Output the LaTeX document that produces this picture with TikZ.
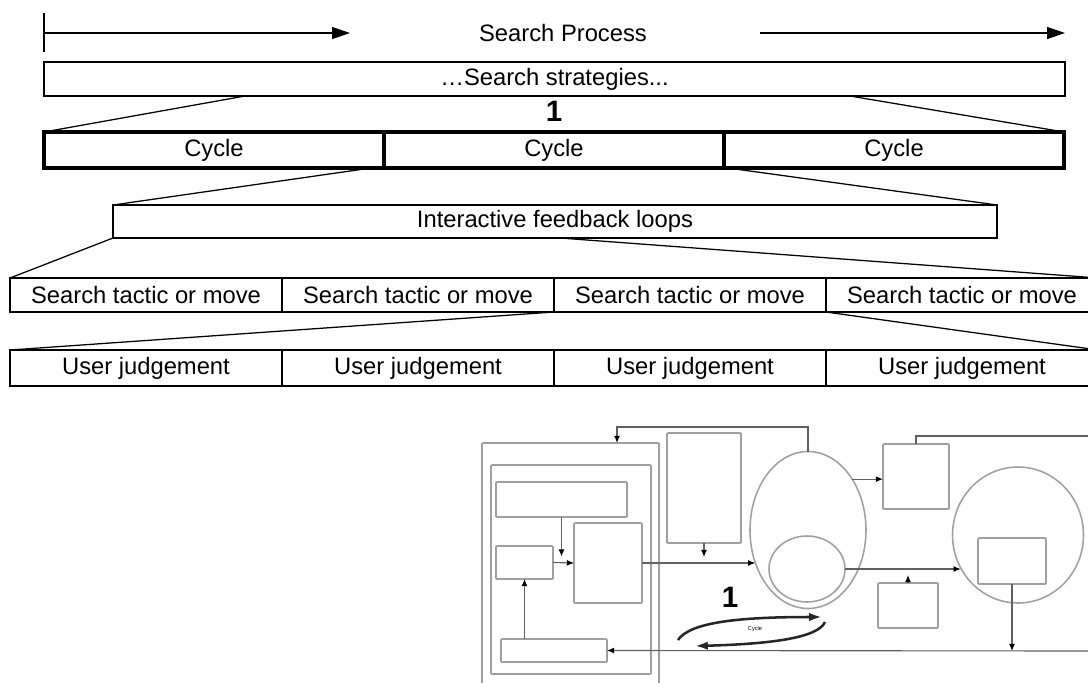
\documentclass[tikz,border=0pt]{standalone}
\usepackage{fontspec}
\setmainfont{Liberation Sans}
\usepackage{xcolor}
\usepackage{tikz}
\usetikzlibrary{positioning,arrows.meta,calc,shapes.geometric}
\definecolor{boxgray}{HTML}{A0A0A0}
\definecolor{lingray}{HTML}{606060}

\begin{document}
\begin{tikzpicture}[x=0.25mm,y=-0.25mm,font=\fontsize{16.9}{20}\selectfont,>={Triangle[length=4.5mm,width=3mm]},line width=0.9pt]
  \tikzstyle{bar}=[draw,rectangle,inner sep=0pt,outer sep=0pt]
  \tikzstyle{cyc}=[bar,line width=2.4pt,minimum width=85mm,minimum height=9mm]
  \tikzstyle{cell}=[bar,minimum width=68mm,minimum height=8.5mm]
  \tikzstyle{gbox}=[draw=boxgray,line width=1.1pt,rounded corners=0.6pt,inner sep=0pt,outer sep=0pt]
  \tikzstyle{gell}=[draw=boxgray,line width=1.1pt,ellipse,inner sep=0pt,outer sep=0pt]
  \tikzstyle{glink}=[draw=lingray,line width=0.8pt,-{Latex[length=1.8mm,width=1.5mm,color=black]}]
  \tikzstyle{cyarr}=[draw=black!85,line width=1.8pt,-{Latex[length=3.2mm,width=2.1mm]}]
  \useasboundingbox (0,0) rectangle (1088,682);
  % search process arrow
  \coordinate (tk1) at (44,13); \coordinate (tk2) at (44,52);
  \coordinate (t0) at (44,33); \coordinate (t1) at (350,33);
  \coordinate (t2) at (760,33); \coordinate (t3) at (1065,33);
  \draw (tk1) -- (tk2);
  \node (proc) at (563,33) {Search Process};
  \draw[->] (t0) -- (t1);
  \draw[->] (t2) -- (t3);
  % strategies and cycles
  \node[bar,minimum width=255.25mm,minimum height=8.5mm] (strat) at (554.5,79) {…Search strategies...};
  \node[font=\bfseries\fontsize{21}{24}\selectfont] (one) at (554,111) {1};
  \node[cyc,anchor=north west] (c1) at (44,132) {Cycle};
  \node[cyc,right=0pt of c1] (c2) {Cycle};
  \node[cyc,right=0pt of c2] (c3) {Cycle};
  \coordinate (s1) at (245,96); \coordinate (s2) at (850,96);
  \draw (s1) -- (c1.north west);
  \draw (s2) -- (c3.north east);
  % feedback loops
  \node[bar,minimum width=221mm,minimum height=8.25mm] (fb) at (555,221.5) {Interactive feedback loops};
  \coordinate (k1) at (371,168); \coordinate (k2) at (728,168);
  \draw (k1) -- (fb.north west);
  \draw (k2) -- (fb.north east);
  % tactics
  \node[cell,anchor=north west] (tac1) at (10,278) {Search tactic or move};
  \node[cell,right=0pt of tac1] (tac2) {Search tactic or move};
  \node[cell,right=0pt of tac2] (tac3) {Search tactic or move};
  \node[cell,right=0pt of tac3] (tac4) {Search tactic or move};
  \coordinate (k3) at (560,238);
  \draw (fb.south west) -- (tac1.north west);
  \draw (k3) -- (tac4.north east);
  % judgements
  \node[cell,minimum height=9mm,anchor=north west] (uj1) at (10,350) {User judgement};
  \node[cell,minimum height=9mm,right=0pt of uj1] (uj2) {User judgement};
  \node[cell,minimum height=9mm,right=0pt of uj2] (uj3) {User judgement};
  \node[cell,minimum height=9mm,right=0pt of uj3] (uj4) {User judgement};
  \draw (tac3.south west) -- (uj1.north west);
  \draw (tac3.south east) -- (uj4.north east);
  % model sketch (grey)
  \node[gbox,minimum width=44.25mm,minimum height=64.25mm] (outer) at (570.5,571.5) {};
  \node[gbox,minimum width=40mm,minimum height=52.25mm] (inner) at (571,569.5) {};
  \node[gbox,minimum width=32.75mm,minimum height=8.75mm] (A) at (561.5,499.5) {};
  \node[gbox,minimum width=14.25mm,minimum height=8.25mm] (B) at (524.5,562.5) {};
  \node[gbox,minimum width=17mm,minimum height=20mm] (C) at (608,563) {};
  \node[gbox,minimum width=26.5mm,minimum height=5.75mm] (D) at (554,650.5) {};
  \node[gbox,minimum width=18.5mm,minimum height=27.5mm] (E) at (704,488) {};
  \node[gell,minimum width=29mm,minimum height=39.25mm] (ell) at (808,530) {};
  \node[gell,minimum width=19mm,minimum height=16.5mm] (sc) at (807,569) {};
  \node[gbox,minimum width=16.5mm,minimum height=16.25mm] (F) at (916,476.5) {};
  \node[gbox,minimum width=15mm,minimum height=11.25mm] (G) at (908,605.5) {};
  \node[gell,minimum width=32.75mm,minimum height=34mm] (bc) at (1018,535) {};
  \node[gbox,minimum width=17mm,minimum height=11.5mm] (H) at (1012,561) {};
  \coordinate (k6) at (617,427);
  \coordinate (k7) at (1095,651);
  \coordinate (k8) at (1095,436);
  \draw[glink] (ell.north) |- (k6) -- (k6 |- outer.north);
  \draw[glink,shorten >=1.5mm] (A.south) -- (A.south |- B.east);
  \draw[glink] (B.east) -- (C.west);
  \draw[glink] (D.north -| B.south) -- (B.south);
  \draw[glink] (k7) -- (D.east);
  \draw[glink] (C.east) -- (C.east -| ell.212);
  \draw[glink,shorten >=1.5mm] (E.south) -- (E.south |- C.east);
  \draw[glink] (ell.49) -- (ell.49 -| F.west);
  \draw[draw=lingray,line width=0.8pt] (F.north) |- (k8);
  \draw[glink] (sc.east) -- (sc.east -| bc.210);
  \draw[glink,shorten >=1.5mm] (G.north) -- (G.north |- sc.east);
  \draw[glink] (H.south) -- (H.south |- k7);
  % cycle loop
  \coordinate (cy1) at (678,640); \coordinate (cy2) at (822,617);
  \coordinate (cy3) at (825,622); \coordinate (cy4) at (695,646);
  \draw[cyarr] (cy1) .. controls (690,622) and (740,617) .. (cy2);
  \draw[cyarr] (cy3) .. controls (818,638) and (770,644) .. (cy4);
  \node[font=\fontsize{4}{5}\selectfont] (cylab) at (755,629) {Cycle};
  \node[font=\bfseries\fontsize{21}{24}\selectfont] (one2) at (730,597) {1};
\end{tikzpicture}
\end{document}
